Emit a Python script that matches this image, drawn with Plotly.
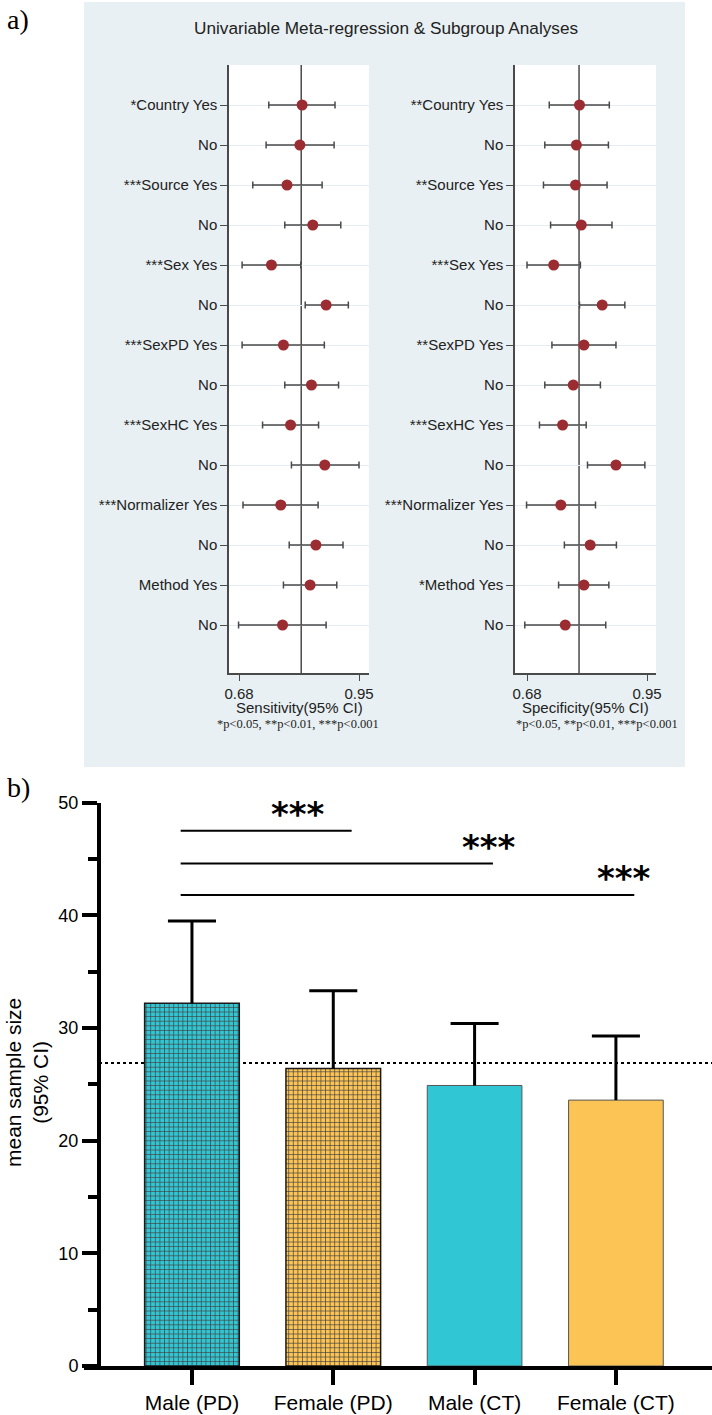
import plotly.graph_objects as go

W, H = 712, 1415

# ---------------- Panel a data (forest plots) ----------------
sens_labels = ["*Country Yes", "No", "***Source Yes", "No", "***Sex Yes", "No",
               "***SexPD Yes", "No", "***SexHC Yes", "No", "***Normalizer Yes", "No",
               "Method Yes", "No"]
spec_labels = ["**Country Yes", "No", "**Source Yes", "No", "***Sex Yes", "No",
               "**SexPD Yes", "No", "***SexHC Yes", "No", "***Normalizer Yes", "No",
               "*Method Yes", "No"]
rows = list(range(1, 15))

sens_est = [0.822, 0.817, 0.788, 0.846, 0.753, 0.876, 0.780, 0.843, 0.796, 0.873, 0.774, 0.853, 0.840, 0.778]
sens_lo = [0.747, 0.741, 0.711, 0.783, 0.687, 0.829, 0.687, 0.783, 0.733, 0.798, 0.689, 0.793, 0.780, 0.679]
sens_hi = [0.896, 0.894, 0.867, 0.909, 0.819, 0.926, 0.872, 0.904, 0.859, 0.950, 0.858, 0.914, 0.900, 0.876]
spec_est = [0.798, 0.791, 0.789, 0.802, 0.740, 0.849, 0.808, 0.784, 0.760, 0.880, 0.756, 0.822, 0.808, 0.766]
spec_lo = [0.730, 0.720, 0.717, 0.733, 0.680, 0.798, 0.736, 0.720, 0.708, 0.816, 0.679, 0.764, 0.751, 0.675]
spec_hi = [0.865, 0.863, 0.860, 0.871, 0.800, 0.900, 0.880, 0.845, 0.813, 0.945, 0.834, 0.881, 0.864, 0.857]
pooled_sens = 0.820
pooled_spec = 0.797
forest_ticks = [0.68, 0.95]

# ---------------- Panel b data (bar chart) ----------------
groups = ["Male (PD)", "Female (PD)", "Male (CT)", "Female (CT)"]
mean_size = [32.2, 26.4, 24.9, 23.6]
upper_ci = [39.5, 33.3, 30.4, 29.3]
overall_mean = 26.9
sig_pairs = [(0, 1), (0, 2), (0, 3)]
sig_y = [47.5, 44.6, 41.8]
sig_text = ["***", "***", "***"]
sig_label_x = [0.75, 2.10, 3.06]
bar_ticks = [0, 10, 20, 30, 40, 50]
bar_minor = [5, 15, 25, 35, 45]


def fx(px):
    return px / W


def fy(py):
    return 1 - py / H


RED = "#9b2c31"
GREY = "#4a4a4a"
SANS = "Liberation Sans, Arial, sans-serif"
SERIF = "Liberation Serif, Times New Roman, serif"
PANEL_BG = "#e8f0f3"
CYAN = "#31c6d3"
YELLOW = "#fcc455"

fig = go.Figure()

# forest traces
for est, lo, hi, xa, ya in [(sens_est, sens_lo, sens_hi, "x", "y"),
                            (spec_est, spec_lo, spec_hi, "x2", "y2")]:
    fig.add_trace(go.Scatter(
        x=est, y=rows, mode="markers",
        marker=dict(size=11, color=RED, line=dict(width=0)),
        error_x=dict(type="data", symmetric=False,
                     array=[h - e for h, e in zip(hi, est)],
                     arrayminus=[e - l for e, l in zip(est, lo)],
                     color=GREY, thickness=1.5, width=3.5),
        xaxis=xa, yaxis=ya, showlegend=False, cliponaxis=False))

# bars
bar_colors = [CYAN, YELLOW, CYAN, YELLOW]
fig.add_trace(go.Bar(
    x=list(range(len(groups))), y=mean_size, width=0.67,
    marker=dict(color=bar_colors,
                line=dict(color=["#1a1a1a", "#1a1a1a", "#555555", "#555555"],
                          width=[1.5, 1.5, 1, 1]),
                pattern=dict(shape=["+", "+", "", ""], fgcolor="#111111",
                             fgopacity=1, size=4.6, solidity=0.28,
                             fillmode="overlay")),
    xaxis="x3", yaxis="y3", showlegend=False))

# upper error whiskers
cap = 0.17
ex, ey = [], []
for i, (v, u) in enumerate(zip(mean_size, upper_ci)):
    ex += [i, i, None, i - cap, i + cap, None]
    ey += [v, u, None, u, u, None]
fig.add_trace(go.Scatter(x=ex, y=ey, mode="lines", line=dict(color="black", width=3),
                         xaxis="x3", yaxis="y3", showlegend=False, hoverinfo="skip"))

# significance brackets
bx, by = [], []
for (a, b), yv in zip(sig_pairs, sig_y):
    bx += [a - 0.08, b + 0.13, None]
    by += [yv, yv, None]
fig.add_trace(go.Scatter(x=bx, y=by, mode="lines", line=dict(color="black", width=2),
                         xaxis="x3", yaxis="y3", showlegend=False, hoverinfo="skip",
                         cliponaxis=False))

forest_y_dom = [fy(673), fy(65)]
axis_common = dict(showgrid=False, zeroline=False, ticks="outside", tickcolor=GREY,
                   tickwidth=1.2, showline=True, linecolor=GREY, linewidth=1.5,
                   tickfont=dict(family=SANS, size=15, color="#222222"), automargin=False)

fig.update_layout(
    width=W, height=H,
    margin=dict(l=0, r=0, t=0, b=0, pad=0),
    paper_bgcolor="white", plot_bgcolor="white",
    showlegend=False,
    xaxis=dict(domain=[fx(229), fx(369)], range=[0.6575, 0.9725], anchor="y",
               tickvals=forest_ticks, ticktext=[f"{t:.2f}" for t in forest_ticks],
               ticklen=6, **axis_common),
    yaxis=dict(domain=forest_y_dom, range=[15.2, 0], anchor="x",
               tickvals=rows, ticktext=sens_labels, ticklen=7,
               **{**axis_common, "showgrid": True}, gridcolor="#e3edf3", gridwidth=1),
    xaxis2=dict(domain=[fx(515), fx(656)], range=[0.653, 0.970], anchor="y2",
                tickvals=forest_ticks, ticktext=[f"{t:.2f}" for t in forest_ticks],
                ticklen=6, **axis_common),
    yaxis2=dict(domain=forest_y_dom, range=[15.2, 0], anchor="x2",
                tickvals=rows, ticktext=spec_labels, ticklen=7,
                **{**axis_common, "showgrid": True}, gridcolor="#e3edf3", gridwidth=1),
    xaxis3=dict(domain=[fx(84), 1.0], range=[-0.764, 3.68], anchor="y3",
                tickvals=list(range(len(groups))), ticktext=groups,
                ticks="outside", ticklen=15, tickwidth=4, tickcolor="black",
                showline=True, linecolor="black", linewidth=4,
                showgrid=False, zeroline=False, automargin=False,
                tickfont=dict(family=SANS, size=21, color="black")),
    yaxis3=dict(domain=[fy(1366), fy(802.7)], range=[0, 50], anchor="free",
                position=fx(99), tickvals=bar_ticks,
                ticks="outside", ticklen=15, tickwidth=4, tickcolor="black",
                minor=dict(tickvals=bar_minor, ticks="outside", ticklen=9,
                           tickwidth=4, tickcolor="black", showgrid=False),
                showline=True, linecolor="black", linewidth=4,
                showgrid=False, zeroline=False, automargin=False,
                tickfont=dict(family=SANS, size=18, color="black")),
)

shapes = [
    dict(type="rect", xref="paper", yref="paper", x0=fx(84), x1=fx(685),
         y0=fy(767), y1=fy(2), fillcolor=PANEL_BG, line=dict(width=0), layer="below"),
    dict(type="rect", xref="paper", yref="paper", x0=fx(229), x1=fx(369),
         y0=forest_y_dom[0], y1=forest_y_dom[1], fillcolor="white", line=dict(width=0), layer="below"),
    dict(type="rect", xref="paper", yref="paper", x0=fx(515), x1=fx(656),
         y0=forest_y_dom[0], y1=forest_y_dom[1], fillcolor="white", line=dict(width=0), layer="below"),
    dict(type="line", xref="x", yref="y domain", x0=pooled_sens, x1=pooled_sens, y0=0, y1=1,
         line=dict(color=GREY, width=1.5), layer="below"),
    dict(type="line", xref="x2", yref="y2 domain", x0=pooled_spec, x1=pooled_spec, y0=0, y1=1,
         line=dict(color=GREY, width=1.5), layer="below"),
    dict(type="line", xref="paper", yref="y3", x0=fx(99), x1=1.0, y0=overall_mean, y1=overall_mean,
         line=dict(color="black", width=2, dash="dot"), layer="below"),
]
fig.update_layout(shapes=shapes)

ann = [
    dict(text="a)", x=fx(5), y=fy(20), xanchor="left", yanchor="middle",
         font=dict(family=SERIF, size=28, color="black")),
    dict(text="b)", x=fx(5), y=fy(787), xanchor="left", yanchor="middle",
         font=dict(family=SERIF, size=28, color="black")),
    dict(text="Univariable Meta-regression & Subgroup Analyses", x=fx(386), y=fy(28),
         xanchor="center", yanchor="middle", font=dict(family=SANS, size=17.2, color="#222222")),
    dict(text="Sensitivity(95% CI)", x=fx(299), y=fy(707), xanchor="center", yanchor="middle",
         font=dict(family=SANS, size=15, color="#222222")),
    dict(text="Specificity(95% CI)", x=fx(585), y=fy(707), xanchor="center", yanchor="middle",
         font=dict(family=SANS, size=15, color="#222222")),
    dict(text="*p<0.05, **p<0.01, ***p<0.001", x=fx(298), y=fy(724), xanchor="center",
         yanchor="middle", font=dict(family=SERIF, size=12.5, color="#222222")),
    dict(text="*p<0.05, **p<0.01, ***p<0.001", x=fx(597), y=fy(724), xanchor="center",
         yanchor="middle", font=dict(family=SERIF, size=12.5, color="#222222")),
    dict(text="mean sample size<br>(95% CI)", x=fx(27), y=fy(1083), textangle=-90,
         xanchor="center", yanchor="middle", font=dict(family=SANS, size=21, color="black")),
]
for t, xv, yv in zip(sig_text, sig_label_x, sig_y):
    ann.append(dict(text="<b>" + t + "</b>", x=xv, y=yv, xref="x3", yref="y3",
                    xanchor="center", yanchor="middle", yshift=17, showarrow=False,
                    font=dict(family="DejaVu Sans, sans-serif", size=34, color="black")))
for a in ann:
    a.setdefault("xref", "paper")
    a.setdefault("yref", "paper")
    a["showarrow"] = False
fig.update_layout(annotations=ann)

fig.write_html("out.html", config={"displayModeBar": False},
               post_script="document.body.style.margin='0';document.body.style.overflow='hidden';")
